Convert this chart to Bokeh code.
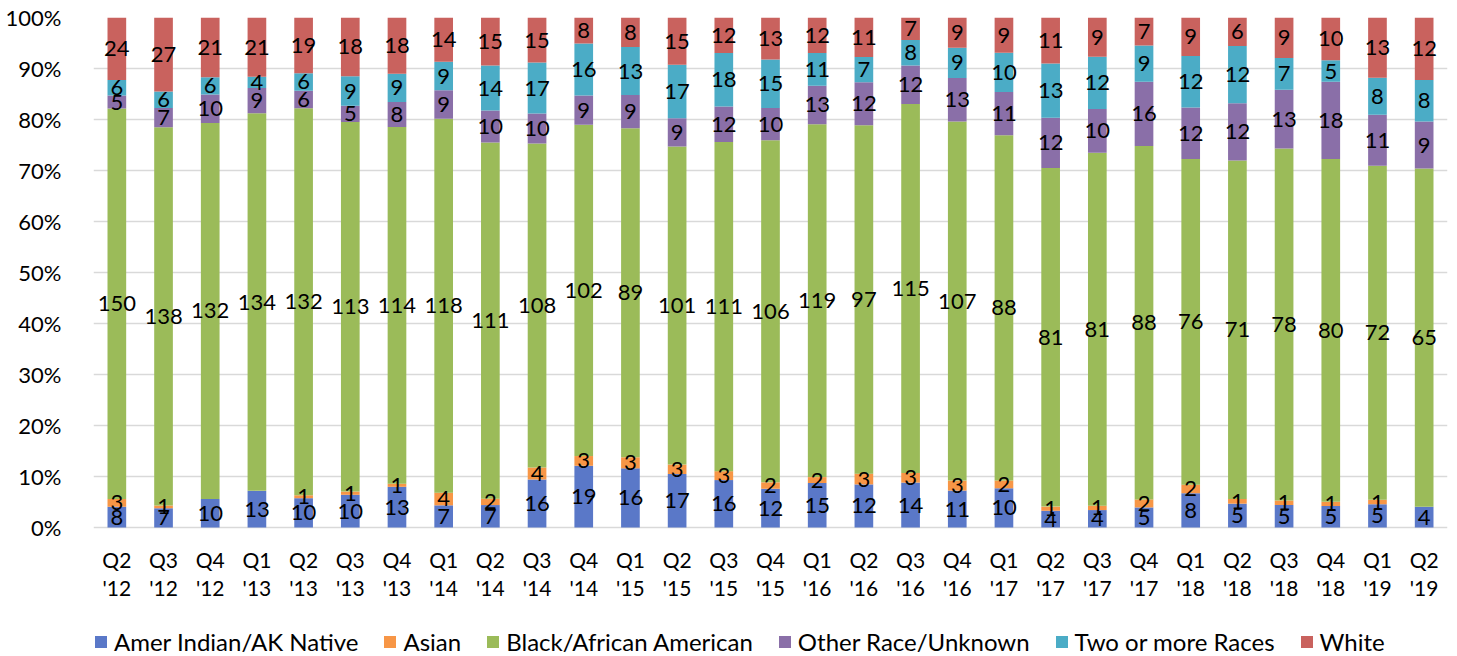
import numpy as np
from bokeh.plotting import figure
from bokeh.models import (ColumnDataSource, FactorRange, Range1d, NumeralTickFormatter,
                          Legend, LegendItem, FixedTicker)
from bokeh.core.properties import value
from bokeh.embed import file_html
from bokeh.resources import INLINE

quarters = ["Q2 '12", "Q3 '12", "Q4 '12", "Q1 '13", "Q2 '13", "Q3 '13", "Q4 '13",
            "Q1 '14", "Q2 '14", "Q3 '14", "Q4 '14", "Q1 '15", "Q2 '15", "Q3 '15",
            "Q4 '15", "Q1 '16", "Q2 '16", "Q3 '16", "Q4 '16", "Q1 '17", "Q2 '17",
            "Q3 '17", "Q4 '17", "Q1 '18", "Q2 '18", "Q3 '18", "Q4 '18", "Q1 '19", "Q2 '19"]

amer_indian = [8, 7, 10, 13, 10, 10, 13, 7, 7, 16, 19, 16, 17, 16, 12, 15, 12, 14, 11, 10,
               4, 4, 5, 8, 5, 5, 5, 5, 4]
asian = [3, 1, 0, 0, 1, 1, 1, 4, 2, 4, 3, 3, 3, 3, 2, 2, 3, 3, 3, 2, 1, 1, 2, 2, 1, 1, 1, 1, 0]
black = [150, 138, 132, 134, 132, 113, 114, 118, 111, 108, 102, 89, 101, 111, 106, 119, 97,
         115, 107, 88, 81, 81, 88, 76, 71, 78, 80, 72, 65]
other = [5, 7, 10, 9, 6, 5, 8, 9, 10, 10, 9, 9, 9, 12, 10, 13, 12, 12, 13, 11, 12, 10, 16,
         12, 12, 13, 18, 11, 9]
two_more = [6, 6, 6, 4, 6, 9, 9, 9, 14, 17, 16, 13, 17, 18, 15, 11, 7, 8, 9, 10, 13, 12, 9,
            12, 12, 7, 5, 8, 8]
white = [24, 27, 21, 21, 19, 18, 18, 14, 15, 15, 8, 8, 15, 12, 13, 12, 11, 7, 9, 9, 11, 9, 7,
         9, 6, 9, 10, 13, 12]

series_names = ["Amer Indian/AK Native", "Asian", "Black/African American",
                "Other Race/Unknown", "Two or more Races", "White"]
series_values = [amer_indian, asian, black, other, two_more, white]
colors = ["#5A78C8", "#F79646", "#9BBB59", "#8A6FA8", "#4BACC6", "#C9625E"]
y_ticks = [i / 10 for i in range(11)]

FONT = "Lato"

# layout (pixels)
FIG_W, FIG_H = 1449, 656
TOP, LEFT = 17, 93
PLOT_PX = 510            # pixels from 0% to 100%
BELOW_PX = FIG_H - TOP - PLOT_PX   # room under the 0% line for labels + legend
px = 1.0 / PLOT_PX       # one pixel in data units

counts = np.array(series_values, dtype=float)
totals = counts.sum(axis=0)
fracs = counts / totals

keys = [f"s{i}" for i in range(len(series_names))]
data = {"q": quarters}
for k, f in zip(keys, fracs):
    data[k] = f
src = ColumnDataSource(data)

p = figure(x_range=FactorRange(*quarters, range_padding=0),
           y_range=Range1d(-BELOW_PX * px, 1),
           width=FIG_W, height=FIG_H, output_backend="svg", toolbar_location=None,
           x_axis_location=None,
           min_border_left=LEFT, min_border_right=2, min_border_top=TOP, min_border_bottom=0)

renderers = p.vbar_stack(keys, x="q", width=0.4, color=colors, line_color=None, source=src)

# data labels
lx, ly, lt = [], [], []
cum = np.zeros(len(quarters))
for si in range(len(series_names)):
    for qi, q in enumerate(quarters):
        v = series_values[si][qi]
        if v > 0:
            lx.append(q)
            ly.append(cum[qi] + fracs[si][qi] / 2)
            lt.append(str(v))
    cum = cum + fracs[si]
lsrc = ColumnDataSource(dict(x=lx, y=ly, t=lt))
p.text(x="x", y="y", text="t", source=lsrc, text_align="center", text_baseline="middle",
       text_font=value(FONT), text_font_size="22px", text_color="#000000")

# category labels (two lines) under the 0% line
qsrc = ColumnDataSource(dict(x=quarters,
                             l1=[q.split(" ")[0] for q in quarters],
                             l2=[q.split(" ")[1] for q in quarters],
                             y1=[-32 * px] * len(quarters),
                             y2=[-60 * px] * len(quarters)))
for col, yc in (("l1", "y1"), ("l2", "y2")):
    p.text(x="x", y=yc, text=col, source=qsrc, text_align="center", text_baseline="middle",
           text_font=value(FONT), text_font_size="21px", text_color="#000000")

# y axis
p.yaxis.ticker = FixedTicker(ticks=y_ticks)
p.yaxis.formatter = NumeralTickFormatter(format="0%")
p.yaxis.major_label_text_font = FONT
p.yaxis.major_label_text_font_size = "22px"
p.yaxis.major_label_text_color = "#000000"
p.yaxis.axis_line_color = None
p.yaxis.major_tick_line_color = None
p.yaxis.minor_tick_line_color = None
p.yaxis.major_label_standoff = 26

p.xgrid.grid_line_color = None
p.ygrid.grid_line_color = "#D9D9D9"
p.ygrid.grid_line_width = 1.5
p.outline_line_color = None

legend = Legend(items=[LegendItem(label=n, renderers=[r]) for n, r in zip(series_names, renderers)],
                orientation="horizontal", location=(0, 0))
legend.label_text_font = FONT
legend.label_text_font_size = "24px"
legend.label_text_color = "#000000"
legend.glyph_width = 15
legend.glyph_height = 15
legend.label_standoff = 6
legend.spacing = 24
legend.border_line_color = None
legend.background_fill_alpha = 0
legend.margin = 0
legend.padding = 0
p.add_layout(legend, "center")

open("out.html", "w").write(file_html(p, INLINE))
